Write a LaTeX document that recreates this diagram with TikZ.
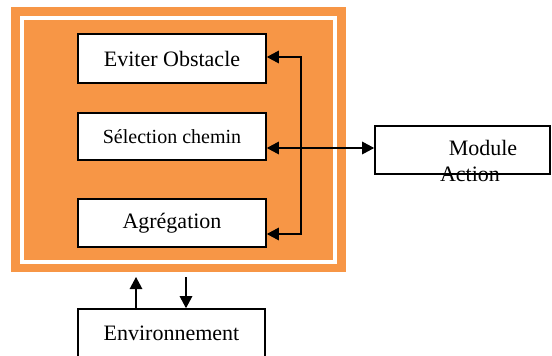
\documentclass[tikz,border=0pt]{standalone}
\usepackage{fontspec}
\setmainfont{Liberation Serif}
\usetikzlibrary{arrows.meta}
\definecolor{boxorange}{HTML}{F79646}
\tikzset{
  modbox/.style={draw=black, fill=white, line width=1.6pt, inner sep=0pt, font=\fontsize{22}{24}\selectfont},
  txt/.style={inner sep=0pt, font=\fontsize{22}{24}\selectfont},
  link/.style={line width=1.3pt, -{Triangle[length=12pt,width=12.5pt]}},
  biglink/.style={line width=1.3pt, {Triangle[length=12pt,width=12.5pt]}-{Triangle[length=12pt,width=12.5pt]}}
}
\begin{document}
\begin{tikzpicture}[x=1pt,y=-1pt]
\useasboundingbox (0,0) rectangle (552,356);
\fill[boxorange] (11,7) rectangle (346,272);
\draw[white, line width=4pt] (21.5,18) rectangle (335,261.5);
\node[modbox, minimum width=188pt, minimum height=49pt] (evit) at (172,58.5) {Eviter Obstacle};
\node[modbox, minimum width=188pt, minimum height=47pt, font=\fontsize{20}{22}\selectfont] (sel) at (172,136.5) {Sélection chemin};
\node[modbox, minimum width=188pt, minimum height=48pt] (agr) at (172,223) {Agrégation};
\node[modbox, minimum width=175pt, minimum height=48pt] (mod) at (462.5,150) {};
\node[txt, anchor=base] (modt1) at (483,155) {Module};
\node[txt, anchor=base] (modt2) at (470,181) {Action};
\node[modbox, minimum width=187pt, minimum height=48pt] (env) at (171.5,333) {Environnement};
\coordinate (bustop) at (301,57);
\coordinate (busbot) at (301,234);
\coordinate (selrow) at (320,148);
\coordinate (upend) at (136,277);
\coordinate (dnstart) at (186,277);
\draw[biglink] (bustop -| evit.east) -- (bustop) -- (busbot) -- (busbot -| agr.east);
\draw[biglink] (selrow -| sel.east) -- (selrow -| mod.west);
\draw[link] (upend |- env.north) -- (upend);
\draw[link] (dnstart) -- (dnstart |- env.north);
\end{tikzpicture}
\end{document}
